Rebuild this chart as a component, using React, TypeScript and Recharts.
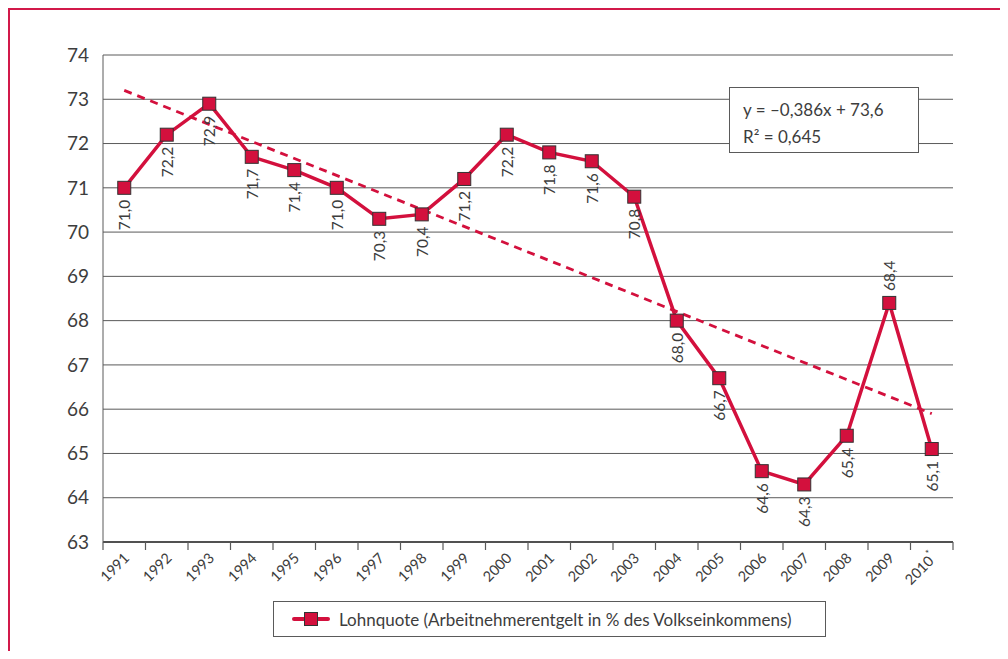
import React from 'react'
import { LineChart, Line, XAxis, YAxis, CartesianGrid, ReferenceLine, LabelList, Legend } from 'recharts'

// data
const years = ['1991', '1992', '1993', '1994', '1995', '1996', '1997', '1998', '1999', '2000',
  '2001', '2002', '2003', '2004', '2005', '2006', '2007', '2008', '2009', '2010']
const lohnquote = [71.0, 72.2, 72.9, 71.7, 71.4, 71.0, 70.3, 70.4, 71.2, 72.2,
  71.8, 71.6, 70.8, 68.0, 66.7, 64.6, 64.3, 65.4, 68.4, 65.1]
const yTicks = [63, 64, 65, 66, 67, 68, 69, 70, 71, 72, 73, 74]
const starredYears = ['2010']
const labelAboveYears = ['2009']
// linear trend y = -0,386x + 73,6, endpoints at 1991 and 2010
const trendStart = 73.2
const trendEnd = 65.9
const equationText = 'y = –0,386x + 73,6'
const r2Text = 'R² = 0,645'
const legendText = 'Lohnquote (Arbeitnehmerentgelt in % des Volkseinkommens)'

const data = years.map((year, i) => ({ year, value: lohnquote[i] }))

const RED = '#d3103d'
const TEXT = '#3d3d3d'
const GRID = '#5a5a5a'
const FONT = 'Lato, "Liberation Sans", sans-serif'

const W = 1008
const H = 659
const M = { top: 55, right: 55, left: 43, bottom: 67 }
const Y_AXIS_W = 60
const PLOT_W = W - M.left - Y_AXIS_W - M.right
const BAND = PLOT_W / years.length

function YearTick(props: any) {
  const { x, y, payload, index } = props
  const tx = x + 6
  const ty = y + 17
  const last = index === years.length - 1
  return (
    <g>
      <line x1={x - BAND / 2} x2={x - BAND / 2} y1={y} y2={y + 8} stroke={GRID} strokeWidth={1.2} />
      {last && <line x1={x + BAND / 2} x2={x + BAND / 2} y1={y} y2={y + 8} stroke={GRID} strokeWidth={1.2} />}
      <text x={tx} y={ty} transform={`rotate(-45 ${tx} ${ty})`} textAnchor="end"
        fontSize={14.5} fill={TEXT} fontFamily={FONT}>
        {payload.value}
        {starredYears.includes(payload.value) && <tspan dy={-7} fontSize={10}>*</tspan>}
      </text>
    </g>
  )
}

function ValueLabel(props: any) {
  const { x, y, value, index } = props
  const above = labelAboveYears.includes(years[index])
  const ay = above ? y - 12 : y + 12
  return (
    <text x={x} y={ay} transform={`rotate(-90 ${x} ${ay})`} textAnchor={above ? 'start' : 'end'}
      dominantBaseline="central" fontSize={15.5} fill={TEXT} fontFamily={FONT}>
      {Number(value).toFixed(1).replace('.', ',')}
    </text>
  )
}

function SquareDot(props: any) {
  const { cx, cy } = props
  if (cx == null || cy == null) return null
  return <rect x={cx - 6.5} y={cy - 6.5} width={13} height={13} fill={RED} stroke="#333" strokeWidth={1} />
}

function LegendBox() {
  return (
    <div style={{
      boxSizing: 'border-box', width: 553, height: 36, border: `1px solid ${GRID}`, background: '#fff',
      display: 'flex', alignItems: 'center', paddingLeft: 18, fontFamily: FONT, fontSize: 17, color: TEXT,
    }}>
      <svg width={38} height={16} style={{ marginRight: 9 }}>
        <line x1={2} x2={36} y1={8} y2={8} stroke={RED} strokeWidth={4} strokeLinecap="round" />
        <rect x={12.5} y={1.5} width={13} height={13} fill={RED} stroke="#333" strokeWidth={1} />
      </svg>
      <span>{legendText}</span>
    </div>
  )
}

export default function App() {
  return (
    <div style={{ position: 'relative', margin: -8, width: W, height: H, overflow: 'hidden', background: '#fff' }}>
      {/* red frame */}
      <div style={{
        position: 'absolute', left: 7, top: 7, width: W, height: H,
        borderLeft: '3px solid #d2194a', borderTop: '3px solid #d2194a',
      }} />

      <div style={{ position: 'absolute', left: 0, top: 0 }}>
        <LineChart width={W} height={H} data={data} margin={M}>
          <CartesianGrid vertical={false} stroke={GRID} strokeWidth={1} />
          <XAxis
            dataKey="year"
            scale="band"
            interval={0}
            height={50}
            tickLine={false}
            tickSize={0}
            tickMargin={0}
            axisLine={{ stroke: '#333', strokeWidth: 1.5 }}
            tick={<YearTick />}
          />
          <YAxis
            domain={[63, 74]}
            ticks={yTicks}
            width={Y_AXIS_W}
            tickLine={false}
            tickSize={6}
            tickMargin={8}
            axisLine={{ stroke: GRID }}
            tick={{ fontSize: 19, fill: TEXT, fontFamily: FONT }}
            interval={0}
          />
          <YAxis
            yAxisId="r"
            orientation="right"
            domain={[63, 74]}
            ticks={[]}
            tick={false}
            tickLine={false}
            width={0}
            axisLine={{ stroke: GRID }}
          />
          <ReferenceLine
            segment={[{ x: years[0], y: trendStart }, { x: years[years.length - 1], y: trendEnd }]}
            stroke={RED}
            strokeWidth={2.8}
            strokeDasharray="8 6"
            ifOverflow="visible"
          />
          <Line
            dataKey="value"
            stroke={RED}
            strokeWidth={3.5}
            dot={<SquareDot />}
            activeDot={false}
            isAnimationActive={false}
          >
            <LabelList dataKey="value" content={<ValueLabel />} />
          </Line>
          <Legend
            layout="vertical"
            align="center"
            verticalAlign="middle"
            wrapperStyle={{ top: 601, left: 273, width: 553, height: 36 }}
            content={() => <LegendBox />}
          />
        </LineChart>
      </div>

      {/* trend equation box */}
      <div style={{
        position: 'absolute', left: 729, top: 87, width: 190, height: 66, boxSizing: 'border-box',
        border: `1px solid ${GRID}`, background: '#fff', fontFamily: FONT, fontSize: 17, color: TEXT,
        padding: '8px 0 0 13px', lineHeight: '27px',
      }}>
        <div>{equationText}</div>
        <div>{r2Text}</div>
      </div>
    </div>
  )
}
